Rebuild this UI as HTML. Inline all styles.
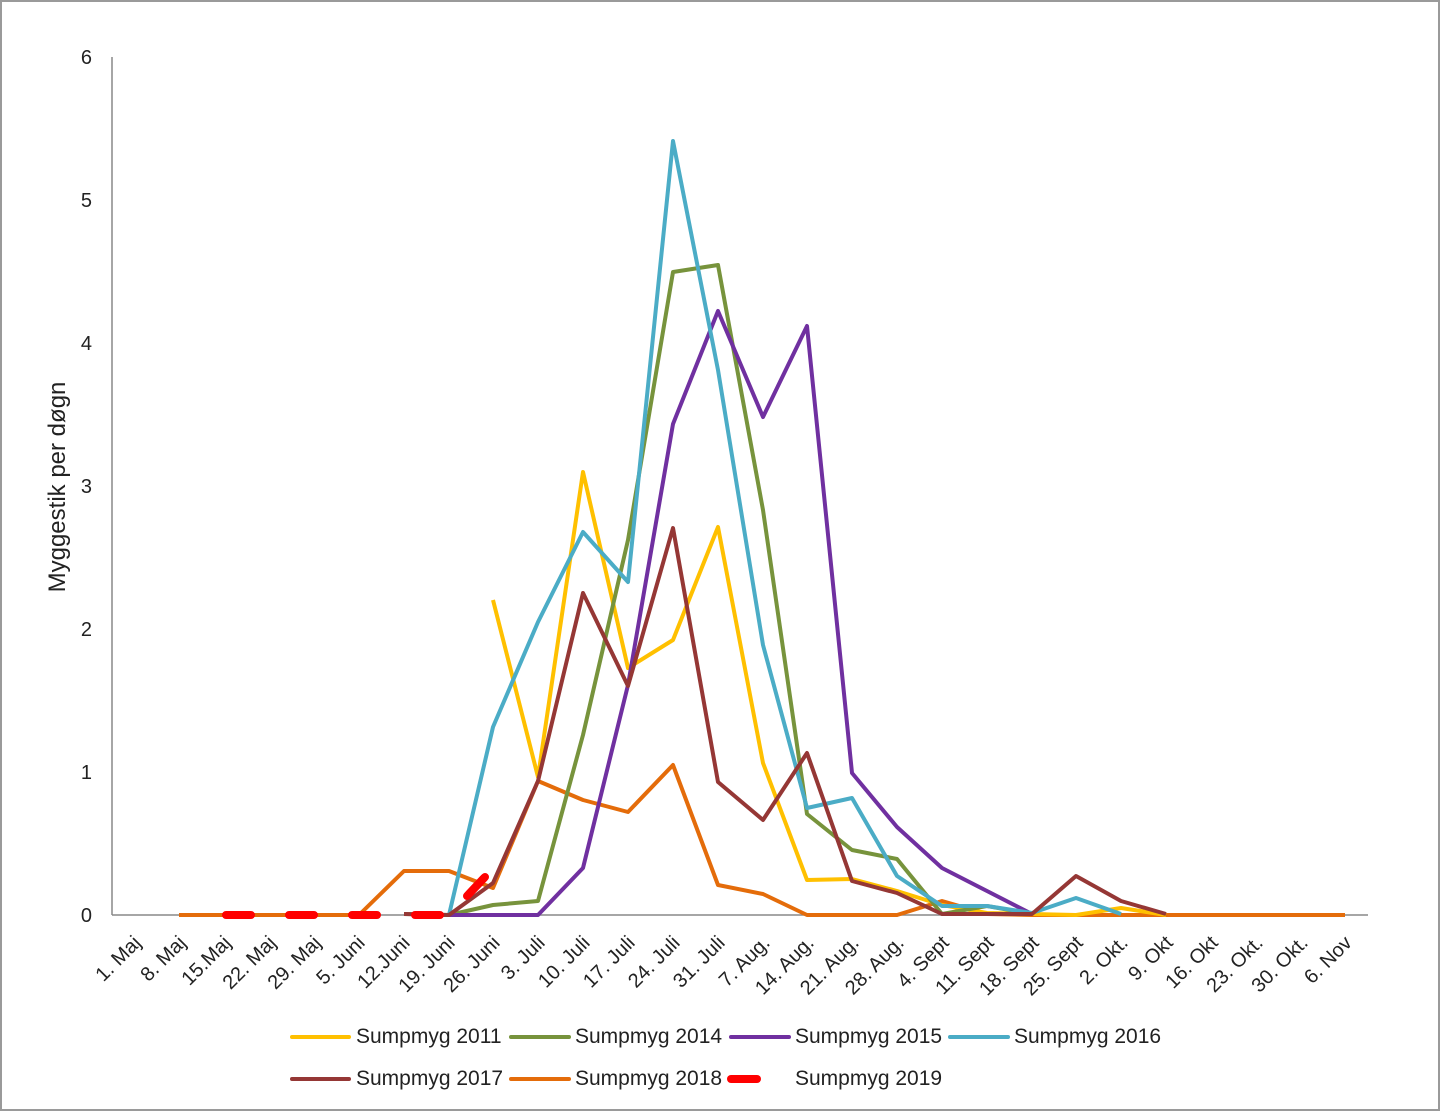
<!DOCTYPE html>
<html><head><meta charset="utf-8"><style>
html,body{margin:0;padding:0;background:#fff}
svg{display:block}
text{font-family:"Liberation Sans",sans-serif;fill:#222}
</style></head><body>
<svg width="1440" height="1111" viewBox="0 0 1440 1111" xmlns="http://www.w3.org/2000/svg">
<rect x="1" y="1" width="1438" height="1109" fill="#fff" stroke="#9a9a9a" stroke-width="2"/>
<line x1="112" y1="57" x2="112" y2="915" stroke="#888" stroke-width="1.5"/>
<line x1="112" y1="915" x2="1368" y2="915" stroke="#888" stroke-width="1.5"/>
<g font-size="20" text-anchor="end">
<text x="92" y="922">0</text><text x="92" y="779">1</text><text x="92" y="636">2</text>
<text x="92" y="493">3</text><text x="92" y="350">4</text><text x="92" y="207">5</text><text x="92" y="64">6</text>
</g>
<text transform="translate(65,487) rotate(-90)" font-size="24" text-anchor="middle">Myggestik per døgn</text>
<g font-size="20" text-anchor="end">
<text transform="translate(142,944) rotate(-45)">1. Maj</text>
<text transform="translate(187,944) rotate(-45)">8. Maj</text>
<text transform="translate(232,944) rotate(-45)">15.Maj</text>
<text transform="translate(277,944) rotate(-45)">22. Maj</text>
<text transform="translate(322,944) rotate(-45)">29. Maj</text>
<text transform="translate(366,944) rotate(-45)">5. Juni</text>
<text transform="translate(411,944) rotate(-45)">12.Juni</text>
<text transform="translate(456,944) rotate(-45)">19. Juni</text>
<text transform="translate(501,944) rotate(-45)">26. Juni</text>
<text transform="translate(546,944) rotate(-45)">3. Juli</text>
<text transform="translate(591,944) rotate(-45)">10. Juli</text>
<text transform="translate(636,944) rotate(-45)">17. Juli</text>
<text transform="translate(681,944) rotate(-45)">24. Juli</text>
<text transform="translate(726,944) rotate(-45)">31. Juli</text>
<text transform="translate(771,944) rotate(-45)">7. Aug.</text>
<text transform="translate(815,944) rotate(-45)">14. Aug.</text>
<text transform="translate(860,944) rotate(-45)">21. Aug.</text>
<text transform="translate(905,944) rotate(-45)">28. Aug.</text>
<text transform="translate(950,944) rotate(-45)">4. Sept</text>
<text transform="translate(995,944) rotate(-45)">11. Sept</text>
<text transform="translate(1040,944) rotate(-45)">18. Sept</text>
<text transform="translate(1084,944) rotate(-45)">25. Sept</text>
<text transform="translate(1129,944) rotate(-45)">2. Okt.</text>
<text transform="translate(1174,944) rotate(-45)">9. Okt</text>
<text transform="translate(1219,944) rotate(-45)">16. Okt</text>
<text transform="translate(1264,944) rotate(-45)">23. Okt.</text>
<text transform="translate(1309,944) rotate(-45)">30. Okt.</text>
<text transform="translate(1353,944) rotate(-45)">6. Nov</text>
</g>
<g fill="none" stroke-width="4" stroke-linejoin="round">
<polyline stroke="#e46c0a" points="179,915 224,915 269,915 314,915 359,915 404,871 449,871 493,888 538,781 583,800 628,812 673,765 718,885 763,894 807,915 852,915 897,915 942,901 987,914 1032,915 1076,915 1121,915 1166,915 1211,915 1256,915 1300,915 1345,915"/>
<polyline stroke="#ffc000" points="493,600 538,777 583,472 628,668 673,640 718,527 763,763 807,880 852,879 897,891 942,905 987,913 1032,914 1076,915 1121,908 1166,915"/>
<polyline stroke="#77933c" points="404,914 449,915 493,905 538,901 583,735 628,540 673,272 718,265 763,510 807,814 852,850 897,859 942,914 987,906 1032,914"/>
<polyline stroke="#7030a0" points="449,915 493,915 538,915 583,868 628,685 673,424 718,311 763,417 807,326 852,773 897,827 942,868 987,891 1032,914"/>
<polyline stroke="#4bacc6" points="449,915 493,727 538,622 583,532 628,582 673,141 718,370 763,645 807,808 852,798 897,876 942,906 987,906 1032,913 1076,898 1121,914"/>
<polyline stroke="#953735" points="404,914 449,915 493,883 538,781 583,593 628,686 673,528 718,782 763,820 807,753 852,881 897,893 942,914 987,914 1032,914 1076,876 1121,901 1166,914"/>
<polyline stroke="#ff0000" stroke-width="8" stroke-linecap="round" stroke-dasharray="25 38" points="226,915 449,915 485,877"/>
<line x1="467" y1="896" x2="484" y2="878" stroke="#ff0000" stroke-width="8" stroke-linecap="round"/>
</g>
<g font-size="21">
<line x1="292" y1="1037" x2="349" y2="1037" stroke="#ffc000" stroke-width="4" stroke-linecap="round"/><text x="356" y="1043">Sumpmyg 2011</text>
<line x1="511" y1="1037" x2="569" y2="1037" stroke="#77933c" stroke-width="4" stroke-linecap="round"/><text x="575" y="1043">Sumpmyg 2014</text>
<line x1="731" y1="1037" x2="789" y2="1037" stroke="#7030a0" stroke-width="4" stroke-linecap="round"/><text x="795" y="1043">Sumpmyg 2015</text>
<line x1="950" y1="1037" x2="1008" y2="1037" stroke="#4bacc6" stroke-width="4" stroke-linecap="round"/><text x="1014" y="1043">Sumpmyg 2016</text>
<line x1="292" y1="1079" x2="349" y2="1079" stroke="#953735" stroke-width="4" stroke-linecap="round"/><text x="356" y="1085">Sumpmyg 2017</text>
<line x1="511" y1="1079" x2="569" y2="1079" stroke="#e46c0a" stroke-width="4" stroke-linecap="round"/><text x="575" y="1085">Sumpmyg 2018</text>
<line x1="731" y1="1079" x2="757" y2="1079" stroke="#ff0000" stroke-width="8" stroke-linecap="round"/><text x="795" y="1085">Sumpmyg 2019</text>
</g>
</svg>
</body></html>
